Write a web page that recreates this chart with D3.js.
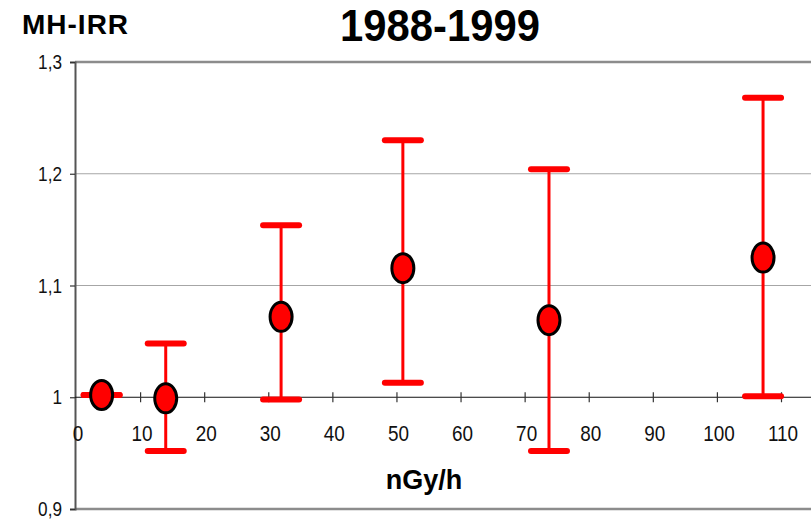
<!DOCTYPE html>
<html><head><meta charset="utf-8">
<script src="https://cdn.jsdelivr.net/npm/d3@7"></script>
<style>body{margin:0;background:#fff}svg{display:block}</style>
</head><body>
<svg id="c" width="811" height="521"></svg>
<script>
const doses = [4, 14, 32, 51, 73.8, 107.2];
const irr   = [1.002, 0.999, 1.072, 1.1155, 1.069, 1.125];
const lower = [1.002, 0.952, 0.998, 1.013, 0.952, 1.001];
const upper = [1.002, 1.048, 1.154, 1.230, 1.204, 1.268];
const xTicks = [0,10,20,30,40,50,60,70,80,90,100,110];
const yTicks = [0.9, 1.0, 1.1, 1.2, 1.3];
const yLabels = ["0,9","1","1,1","1,2","1,3"];
const title = "1988-1999", yTitle = "MH-IRR", xTitle = "nGy/h";

const svg = d3.select("#c");
const x = d3.scaleLinear().domain([0,110]).range([76,781]);
const y = d3.scaleLinear().domain([0.9,1.3]).range([509,62]);
const F = "'Liberation Sans', Arial, sans-serif";

// gridlines
svg.append("g").selectAll("line").data([1.1,1.2]).join("line")
  .attr("x1",75).attr("x2",811).attr("y1",d=>y(d)).attr("y2",d=>y(d))
  .attr("stroke","#a6a6a6").attr("stroke-width",1);
// top & bottom frame
svg.append("line").attr("x1",75).attr("x2",811).attr("y1",y(1.3)).attr("y2",y(1.3))
  .attr("stroke","#8c8c8c").attr("stroke-width",2.5);
svg.append("line").attr("x1",75).attr("x2",811).attr("y1",y(0.9)).attr("y2",y(0.9))
  .attr("stroke","#8c8c8c").attr("stroke-width",2.5);

// y axis
const yAxis = d3.axisLeft(y).tickValues(yTicks).tickSize(5).tickFormat((d,i)=>"");
const ya = svg.append("g").attr("transform","translate(75,0)").call(yAxis);
ya.select(".domain").attr("stroke","#555").attr("stroke-width",2);
ya.selectAll(".tick line").attr("stroke","#333").attr("stroke-width",1.2);
svg.append("g").selectAll("text").data(yTicks).join("text")
  .attr("transform",d=>`translate(62,${y(d)+7}) scale(0.86,1)`)
  .attr("text-anchor","end").attr("font-family",F).attr("font-size",20).attr("fill","#111")
  .text((d,i)=>yLabels[i]);

// x axis at y=1
const xAxis = d3.axisBottom(x).tickValues(xTicks.slice(1)).tickSizeInner(5).tickSizeOuter(0).tickFormat("");
const xa = svg.append("g").attr("transform",`translate(0,${y(1)})`).call(xAxis);
xa.select(".domain").attr("stroke","#111").attr("stroke-width",1).attr("d",`M75,0H811`);
xa.selectAll(".tick line").attr("y1",-5).attr("y2",5).attr("stroke","#333").attr("stroke-width",1.2);
svg.append("g").selectAll("text").data(xTicks).join("text")
  .attr("transform",d=>`translate(${x(d)+2},441) scale(0.86,1)`)
  .attr("text-anchor","middle").attr("font-family",F).attr("font-size",22).attr("fill","#111")
  .text(d=>d);

// error bars
const eb = svg.append("g");
eb.selectAll("line.v").data(doses).join("line").attr("class","v")
  .attr("x1",d=>x(d)).attr("x2",d=>x(d))
  .attr("y1",(d,i)=>y(lower[i])).attr("y2",(d,i)=>y(upper[i]))
  .attr("stroke","#ff0000").attr("stroke-width",3);
const caps = [];
doses.forEach((d,i)=>{caps.push([d,lower[i]]);caps.push([d,upper[i]]);});
eb.selectAll("line.c").data(caps).join("line").attr("class","c")
  .attr("x1",d=>x(d[0])-18).attr("x2",d=>x(d[0])+18)
  .attr("y1",d=>y(d[1])).attr("y2",d=>y(d[1]))
  .attr("stroke","#ff0000").attr("stroke-width",6).attr("stroke-linecap","round");

// markers
svg.append("g").selectAll("ellipse").data(doses).join("ellipse")
  .attr("cx",d=>x(d)).attr("cy",(d,i)=>y(irr[i]))
  .attr("rx",11).attr("ry",14.5).attr("fill","#ff0000").attr("stroke","#000").attr("stroke-width",3);

// titles
svg.append("text").attr("transform","translate(440,41) scale(0.95,1)").attr("text-anchor","middle")
  .attr("font-family",F).attr("font-weight","bold").attr("font-size",44).text(title);
svg.append("text").attr("x",22).attr("y",34)
  .attr("font-family",F).attr("font-weight","bold").attr("font-size",28).attr("letter-spacing",1).text(yTitle);
svg.append("text").attr("x",424).attr("y",489).attr("text-anchor","middle")
  .attr("font-family",F).attr("font-weight","bold").attr("font-size",27).text(xTitle);
</script>
</body></html>
